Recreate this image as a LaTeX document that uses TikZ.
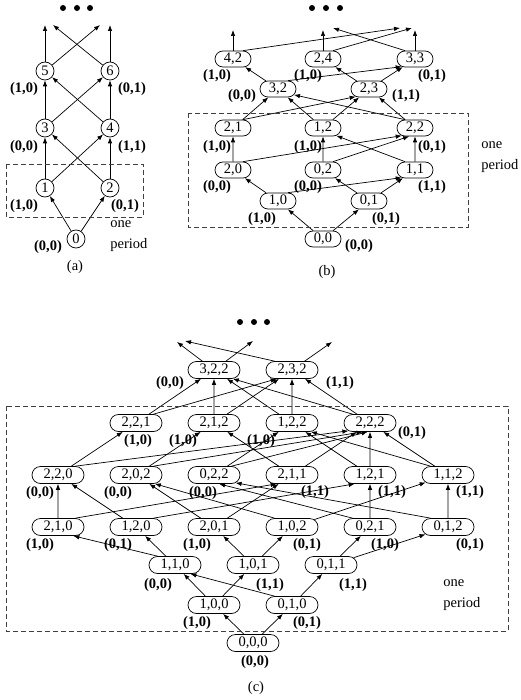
\documentclass[tikz,border=0pt]{standalone}
\usepackage{fontspec}
\setmainfont{Liberation Serif}
\usepackage{tikz}
\usetikzlibrary{arrows.meta,shapes.misc}

\newcommand{\fs}{\fontsize{14.5}{16}\selectfont}
\tikzset{
    circ/.style={draw,circle,minimum size=18pt,inner sep=0pt},
    rr/.style={draw,rounded rectangle,minimum width=36pt,minimum height=16pt,inner sep=0pt},
    rrr/.style={draw,rounded rectangle,minimum width=52pt,minimum height=17pt,inner sep=0pt},
    lab/.style={font=\fs\bfseries,inner sep=0pt},
    arr/.style={-{Latex[length=6pt,width=4.5pt]}},
    period/.style={draw=black!75,dash pattern=on 5pt off 3pt},
    per/.style={align=left,anchor=west,inner sep=0pt,font=\fontsize{14.5}{21}\selectfont},
}

\begin{document}
\begin{tikzpicture}[x=1pt,y=-1pt,line width=0.7pt,font=\fs]
\useasboundingbox (0,0) rectangle (520,700);
%%%%%%%%%%%%%%%%%%%%%%%%%%%%%%%%%%%%% (a)
\begin{scope}
    \fill (63,8) circle (3pt);
    \fill (77,8) circle (3pt);
    \fill (90,8) circle (3pt);
    \node[circ] (n5) at (45,71) {5};
    \node[circ] (n6) at (110,71) {6};
    \node[circ] (n3) at (45,128) {3};
    \node[circ] (n4) at (110,128) {4};
    \node[circ] (n1) at (45,188) {1};
    \node[circ] (n2) at (110,188) {2};
    \node[circ] (n0) at (76,239) {0};
    \coordinate (t5a) at (45,25);
    \coordinate (t5b) at (100,25);
    \coordinate (t6a) at (110,25);
    \coordinate (t6b) at (53,25);
    %
    \draw[arr] (n0) -- (n1);
    \draw[arr] (n0) -- (n2);
    \draw[arr] (n1) -- (n3);
    \draw[arr] (n1) -- (n4);
    \draw[arr] (n2) -- (n3);
    \draw[arr] (n2) -- (n4);
    \draw[arr] (n3) -- (n5);
    \draw[arr] (n3) -- (n6);
    \draw[arr] (n4) -- (n5);
    \draw[arr] (n4) -- (n6);
    \draw[arr] (n5) -- (t5a);
    \draw[arr] (n5) -- (t5b);
    \draw[arr] (n6) -- (t6a);
    \draw[arr] (n6) -- (t6b);
    %
    \node[lab] (la5) at (24,89) {(1,0)};
    \node[lab] (la6) at (132,89) {(0,1)};
    \node[lab] (la3) at (24,147) {(0,0)};
    \node[lab] (la4) at (132,147) {(1,1)};
    \node[lab] (la1) at (24,206) {(1,0)};
    \node[lab] (la2) at (125,206) {(0,1)};
    \node[lab] (la0) at (48,247) {(0,0)};
    \draw[period] (6,164) rectangle (143,217);
    \node[per] (pa) at (110,236) {one\\period};
    \node (ca) at (75,267) {(a)};
\end{scope}
%%%%%%%%%%%%%%%%%%%%%%%%%%%%%%%%%%%%% (b)
\begin{scope}
    \fill (312,8) circle (3pt);
    \fill (326,8) circle (3pt);
    \fill (340,8) circle (3pt);
    \node[rr] (b42) at (233,59) {4,2};
    \node[rr] (b24) at (323,59) {2,4};
    \node[rr] (b33) at (415,59) {3,3};
    \node[rr] (b32) at (278,89) {3,2};
    \node[rr] (b23) at (369,89) {2,3};
    \node[rr] (b21) at (233,128) {2,1};
    \node[rr] (b12) at (323,128) {1,2};
    \node[rr] (b22) at (415,128) {2,2};
    \node[rr] (b20) at (233,170) {2,0};
    \node[rr] (b02) at (323,170) {0,2};
    \node[rr] (b11) at (415,170) {1,1};
    \node[rr] (b10) at (278,201) {1,0};
    \node[rr] (b01) at (369,201) {0,1};
    \node[rr] (b00) at (323,239) {0,0};
    \coordinate (t42a) at (233,30);
    \coordinate (t42b) at (400,28);
    \coordinate (t24a) at (323,30);
    \coordinate (t24b) at (412,28);
    \coordinate (t33a) at (415,30);
    \coordinate (t33b) at (333,28);
    %
    \draw[arr] (b00) -- (b10);
    \draw[arr] (b00) -- (b01);
    \draw[arr] (b10) -- (b20);
    \draw[arr] (b10.north east) -- (b11.-150);
    \draw[arr] (b01) -- (b02);
    \draw[arr] (b01) -- (b11);
    \draw[arr] (b20) -- (b21);
    \draw[arr] (b20.north east) -- (b22.-150);
    \draw[arr] (b02) -- (b12);
    \draw[arr] (b02.north east) -- (b22.-125);
    \draw[arr] (b11.north west) -- (b12.-30);
    \draw[arr] (b11) -- (b22);
    \draw[arr] (b21) -- (b32);
    \draw[arr] (b21.north east) -- (b23.-150);
    \draw[arr] (b12) -- (b32);
    \draw[arr] (b12) -- (b23);
    \draw[arr] (b22.north west) -- (b32.-20);
    \draw[arr] (b22) -- (b23);
    \draw[arr] (b32) -- (b42);
    \draw[arr] (b32.north east) -- (b33.-150);
    \draw[arr] (b23) -- (b24);
    \draw[arr] (b23) -- (b33);
    \draw[arr] (b42) -- (t42a);
    \draw[arr] (b42.north east) -- (t42b);
    \draw[arr] (b24) -- (t24a);
    \draw[arr] (b24.north east) -- (t24b);
    \draw[arr] (b33) -- (t33a);
    \draw[arr] (b33.north west) -- (t33b);
    %
    \node[lab] (lb42) at (217,76) {(1,0)};
    \node[lab] (lb24) at (308,76) {(1,0)};
    \node[lab] (lb33) at (432,76) {(0,1)};
    \node[lab] (lb32) at (242,96) {(0,0)};
    \node[lab] (lb23) at (406,96) {(1,1)};
    \node[lab] (lb21) at (217,147) {(1,0)};
    \node[lab] (lb12) at (308,147) {(1,0)};
    \node[lab] (lb22) at (432,147) {(0,1)};
    \node[lab] (lb20) at (217,187) {(0,0)};
    \node[lab] (lb02) at (308,187) {(0,0)};
    \node[lab] (lb11) at (432,187) {(1,1)};
    \node[lab] (lb10) at (262,219) {(1,0)};
    \node[lab] (lb01) at (386,219) {(0,1)};
    \node[lab] (lb00) at (359,246) {(0,0)};
    \draw[period] (188,113) rectangle (468,227);
    \node[per] (pb) at (481,157) {one\\period};
    \node (cb) at (327,272) {(b)};
\end{scope}
%%%%%%%%%%%%%%%%%%%%%%%%%%%%%%%%%%%%% (c)
\begin{scope}
    \fill (240,322) circle (3pt);
    \fill (254,322) circle (3pt);
    \fill (267,322) circle (3pt);
    \node[rrr] (c322) at (214,370) {3,2,2};
    \node[rrr] (c232) at (292,370) {2,3,2};
    %
    \node[rrr] (c221) at (136,423) {2,2,1};
    \node[rrr] (c212) at (214,423) {2,1,2};
    \node[rrr] (c122) at (292,423) {1,2,2};
    \node[rrr] (c222) at (370,423) {2,2,2};
    %
    \node[rrr] (c220) at (58,475) {2,2,0};
    \node[rrr] (c202) at (136,475) {2,0,2};
    \node[rrr] (c022) at (214,475) {0,2,2};
    \node[rrr] (c211) at (292,475) {2,1,1};
    \node[rrr] (c121) at (370,475) {1,2,1};
    \node[rrr] (c112) at (448,475) {1,1,2};
    %
    \node[rrr] (c210) at (58,527) {2,1,0};
    \node[rrr] (c120) at (136,527) {1,2,0};
    \node[rrr] (c201) at (214,527) {2,0,1};
    \node[rrr] (c102) at (292,527) {1,0,2};
    \node[rrr] (c021) at (370,527) {0,2,1};
    \node[rrr] (c012) at (448,527) {0,1,2};
    %
    \node[rrr] (c110) at (175,565) {1,1,0};
    \node[rrr] (c101) at (253,565) {1,0,1};
    \node[rrr] (c011) at (331,565) {0,1,1};
    \node[rrr] (c100) at (214,605) {1,0,0};
    \node[rrr] (c010) at (292,605) {0,1,0};
    \node[rrr] (c000) at (253,643) {0,0,0};
    \coordinate (t322a) at (177,342);
    \coordinate (t322b) at (253,341);
    \coordinate (t232a) at (185,341);
    \coordinate (t232b) at (332,342);
    %
    \draw[arr] (c000) -- (c100);
    \draw[arr] (c000) -- (c010);
    \draw[arr] (c100) -- (c110);
    \draw[arr] (c100) -- (c101);
    \draw[arr] (c010.north west) -- (c110.-30);
    \draw[arr] (c010) -- (c011);
    \draw[arr] (c110.north west) -- (c210.-30);
    \draw[arr] (c110) -- (c120);
    \draw[arr] (c101) -- (c201);
    \draw[arr] (c101) -- (c102);
    \draw[arr] (c011) -- (c021);
    \draw[arr] (c011) -- (c012);
    %
    \draw[arr] (c210) -- (c220);
    \draw[arr] (c210.north east) -- (c211.-150);
    \draw[arr] (c120) -- (c220);
    \draw[arr] (c120.north east) -- (c121.-150);
    \draw[arr] (c201) -- (c202);
    \draw[arr] (c201) -- (c211);
    \draw[arr] (c102.north west) -- (c202.-25);
    \draw[arr] (c102) -- (c112);
    \draw[arr] (c021.north west) -- (c022.-60);
    \draw[arr] (c021) -- (c121);
    \draw[arr] (c012.north west) -- (c022.-20);
    \draw[arr] (c012) -- (c112);
    %
    \draw[arr] (c220) -- (c221);
    \draw[arr] (c220.north east) -- (c222.-160);
    \draw[arr] (c202) -- (c212);
    \draw[arr] (c202.north east) -- (c222.-130);
    \draw[arr] (c022) -- (c122);
    \draw[arr] (c022.north east) -- (c222.-105);
    \draw[arr] (c211) -- (c212);
    \draw[arr] (c211) -- (c222);
    \draw[arr] (c121) -- (c122);
    \draw[arr] (c121) -- (c222);
    \draw[arr] (c112.north west) -- (c122.-25);
    \draw[arr] (c112) -- (c222);
    %
    \draw[arr] (c221) -- (c322);
    \draw[arr] (c221.north east) -- (c232.-150);
    \draw[arr] (c212) -- (c322);
    \draw[arr] (c212) -- (c232);
    \draw[arr] (c122) -- (c322);
    \draw[arr] (c122) -- (c232);
    \draw[arr] (c222.north west) -- (c322.-25);
    \draw[arr] (c222) -- (c232);
    \draw[arr] (c322) -- (t322a);
    \draw[arr] (c322) -- (t322b);
    \draw[arr] (c232.north west) -- (t232a);
    \draw[arr] (c232) -- (t232b);
    %
    \node[lab] (lc322) at (170,383) {(0,0)};
    \node[lab] (lc232) at (340,383) {(1,1)};
    \node[lab] (lc221) at (138,441) {(1,0)};
    \node[lab] (lc212) at (183,441) {(1,0)};
    \node[lab] (lc122) at (261,441) {(1,0)};
    \node[lab] (lc222) at (412,433) {(0,1)};
    \node[lab] (lc220) at (40,493) {(0,0)};
    \node[lab] (lc202) at (118,493) {(0,0)};
    \node[lab] (lc022) at (203,493) {(0,0)};
    \node[lab] (lc211) at (315,492) {(1,1)};
    \node[lab] (lc121) at (392,492) {(1,1)};
    \node[lab] (lc112) at (470,492) {(1,1)};
    \node[lab] (lc210) at (40,545) {(1,0)};
    \node[lab] (lc120) at (118,545) {(0,1)};
    \node[lab] (lc201) at (197,545) {(1,0)};
    \node[lab] (lc102) at (307,545) {(0,1)};
    \node[lab] (lc021) at (385,545) {(1,0)};
    \node[lab] (lc012) at (470,545) {(0,1)};
    \node[lab] (lc110) at (158,585) {(0,0)};
    \node[lab] (lc101) at (270,585) {(1,1)};
    \node[lab] (lc011) at (353,585) {(1,1)};
    \node[lab] (lc100) at (197,623) {(1,0)};
    \node[lab] (lc010) at (307,623) {(0,1)};
    \node[lab] (lc000) at (255,662) {(0,0)};
    \draw[period] (6,406) rectangle (508,631);
    \node[per] (pc) at (443,595) {one\\period};
    \node (cc) at (256,688) {(c)};
\end{scope}
\end{tikzpicture}
\end{document}
